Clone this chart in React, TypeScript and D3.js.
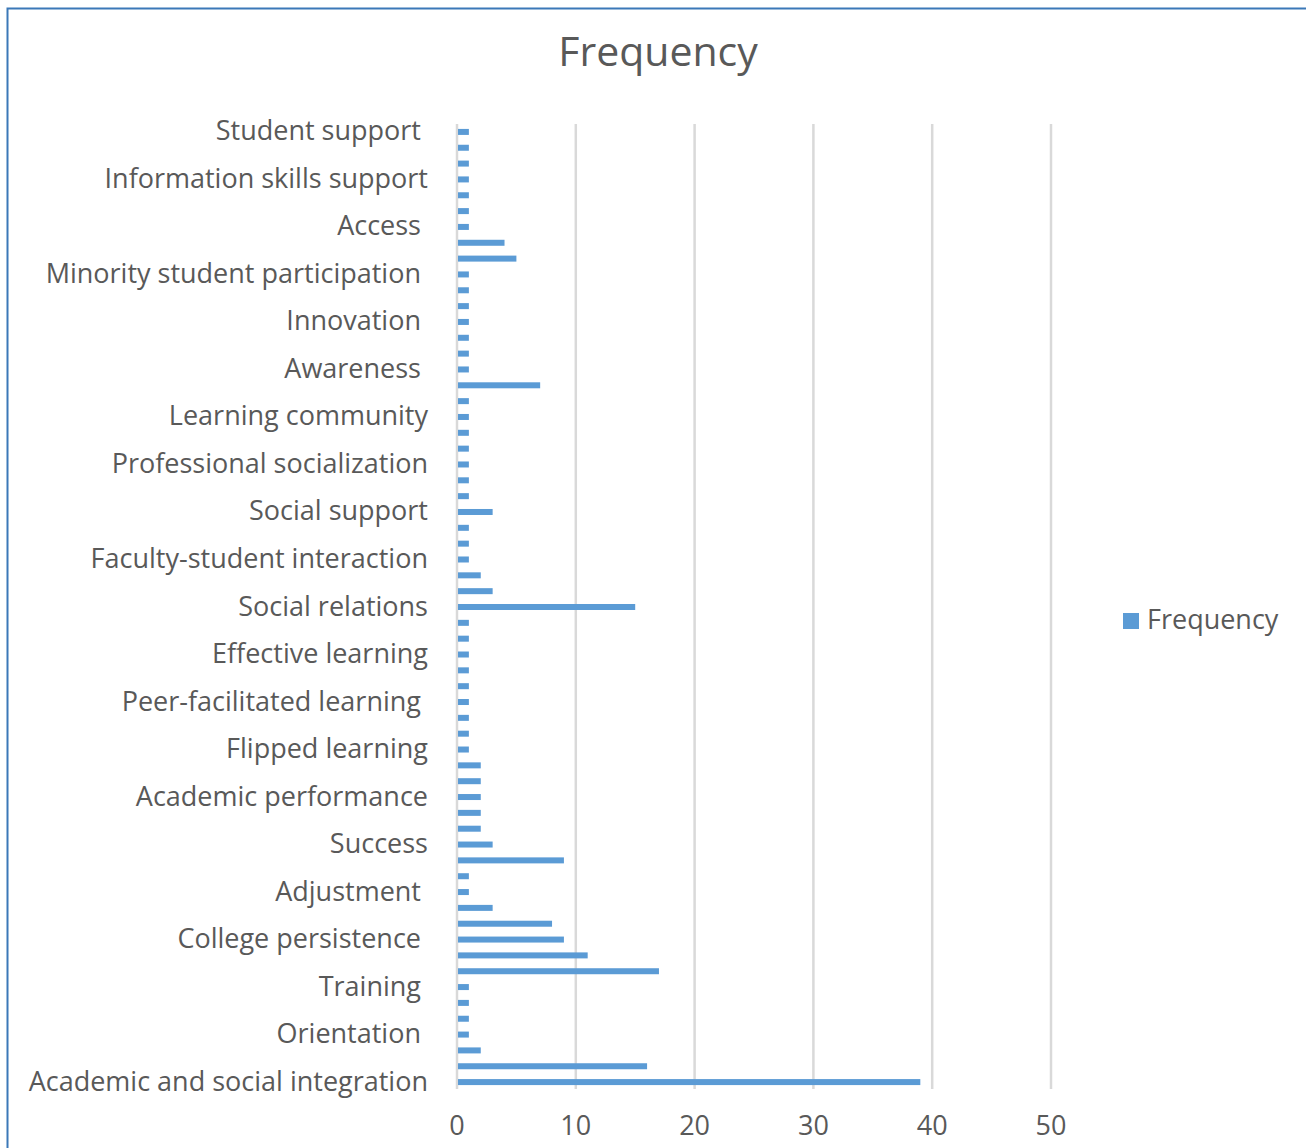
import React, { useEffect, useRef } from "react";
import * as d3 from "d3";

// Data in Excel order: index 0 is the bottom bar.
const values: number[] = [
  39, 16, 2, 1, 1, 1, 1, 17, 11, 9, 8, 3, 1, 1, 9, 3, 2, 2, 2, 2, 2, 1, 1, 1, 1, 1, 1, 1, 1, 1,
  15, 3, 2, 1, 1, 1, 3, 1, 1, 1, 1, 1, 1, 1, 7, 1, 1, 1, 1, 1, 1, 1, 5, 4, 1, 1, 1, 1, 1, 1, 1,
];

// Only every third category label is shown in the chart (others unreadable).
const shownLabels: string[] = [
  "Academic and social integration",
  "Orientation ",
  "Training ",
  "College persistence ",
  "Adjustment ",
  "Success",
  "Academic performance",
  "Flipped learning",
  "Peer-facilitated learning ",
  "Effective learning",
  "Social relations",
  "Faculty-student interaction",
  "Social support",
  "Professional socialization",
  "Learning community",
  "Awareness ",
  "Innovation ",
  "Minority student participation ",
  "Access ",
  "Information skills support",
  "Student support ",
];

const categories: string[] = values.map((_, i) => (i % 3 === 0 ? shownLabels[i / 3] : ""));
const xTicks: number[] = [0, 10, 20, 30, 40, 50];
const seriesName = "Frequency";
const chartTitle = "Frequency";

const W = 1306;
const H = 1148;
const FONT = "'Open Sans', 'DejaVu Sans', sans-serif";
const TEXT = "#595959";
const BAR = "#5b9bd5";

export default function App() {
  const ref = useRef<SVGSVGElement | null>(null);

  useEffect(() => {
    const svg = d3.select(ref.current);
    svg.selectAll("*").remove();

    const x = d3.scaleLinear().domain([0, 50]).range([457, 1051]);
    const y = d3
      .scaleBand<number>()
      .domain(values.map((_, i) => i))
      .range([1090, 124]);
    const barH = 6;

    // border
    svg
      .append("path")
      .attr("d", `M7.5,${H} L7.5,8.5 L${W},8.5`)
      .attr("fill", "none")
      .attr("stroke", "#3b78b8")
      .attr("stroke-width", 2);

    // title
    svg
      .append("text")
      .attr("x", 658)
      .attr("y", 66)
      .attr("text-anchor", "middle")
      .attr("font-family", FONT)
      .attr("font-size", 41)
      .attr("fill", TEXT)
      .text(chartTitle);

    // gridlines
    svg
      .append("g")
      .selectAll("line")
      .data(xTicks)
      .join("line")
      .attr("x1", (d) => x(d))
      .attr("x2", (d) => x(d))
      .attr("y1", 124)
      .attr("y2", 1089)
      .attr("stroke", "#d9d9d9")
      .attr("stroke-width", 2.5);

    // x tick labels
    svg
      .append("g")
      .selectAll("text")
      .data(xTicks)
      .join("text")
      .attr("x", (d) => x(d))
      .attr("y", 1135)
      .attr("text-anchor", "middle")
      .attr("font-family", FONT)
      .attr("font-size", 27)
      .attr("fill", TEXT)
      .text((d) => String(d));

    // bars
    svg
      .append("g")
      .selectAll("rect")
      .data(values)
      .join("rect")
      .attr("x", x(0) + 1)
      .attr("y", (_, i) => (y(i) as number) + y.bandwidth() / 2 - barH / 2)
      .attr("width", (d) => x(d) - x(0) - 1)
      .attr("height", barH)
      .attr("fill", BAR);

    // category labels
    svg
      .append("g")
      .selectAll("text")
      .data(categories.map((c, i) => ({ c, i })).filter((d) => d.c !== ""))
      .join("text")
      .attr("x", 428)
      .attr("y", (d) => (y(d.i) as number) + y.bandwidth() / 2 + 8.5)
      .attr("text-anchor", "end")
      .attr("font-family", FONT)
      .attr("font-size", 27)
      .attr("fill", TEXT)
      .attr("xml:space", "preserve")
      .style("white-space", "pre")
      .text((d) => d.c);

    // legend
    svg
      .append("rect")
      .attr("x", 1123)
      .attr("y", 613)
      .attr("width", 16)
      .attr("height", 16)
      .attr("fill", BAR);
    svg
      .append("text")
      .attr("x", 1147)
      .attr("y", 629)
      .attr("font-family", FONT)
      .attr("font-size", 27)
      .attr("fill", TEXT)
      .text(seriesName);
  }, []);

  return (
    <svg
      ref={ref}
      width={W}
      height={H}
      style={{ position: "absolute", left: 0, top: 0, background: "#fff" }}
    />
  );
}
